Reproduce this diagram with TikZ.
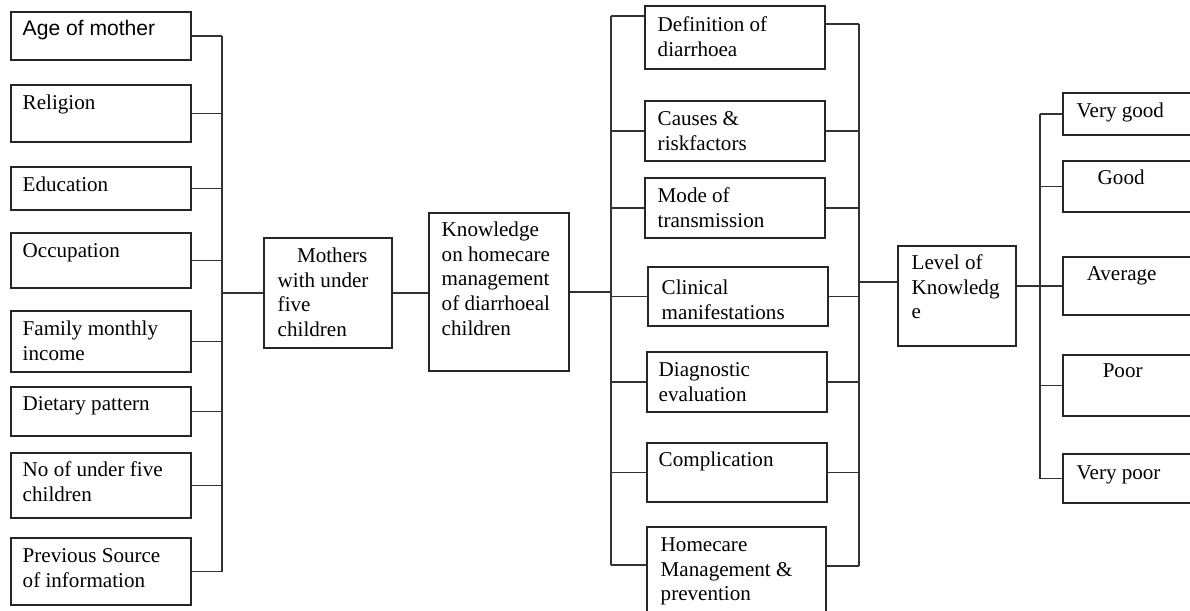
\documentclass[tikz,border=0pt]{standalone}
\usepackage{fontspec}
\setmainfont{Liberation Serif}
\setsansfont{Liberation Sans}

\tikzset{
  box/.style={draw=black!85, line width=0.7pt, inner sep=0pt},
  txt/.style={anchor=north west, inner sep=0pt, align=left, font=\fontsize{12}{14}\selectfont},
  link/.style={draw=black!80, line width=0.7pt}
}
% box: name, x1, y1, x2, y2, text inset, baseline drop, text
\newcommand{\blk}[8]{%
  \node[box, minimum width={(#4-#2)*0.02cm}, minimum height={(#5-#3)*0.02cm}]
    (#1) at ({(#2+#4)/2},{(#3+#5)/2}) {};
  \node[txt] (#1t) at ([shift={(#6,{#7-17.3})}]#1.north west) {\strut #8};}

\begin{document}
\begin{tikzpicture}[x=0.02cm, y=-0.02cm]
        \useasboundingbox (0,0) rectangle (1190,611);
        \clip (0,0) rectangle (1190,611);

        % background data of the mothers
        \blk{age}{11}{12}{191}{60}{12}{24}{\sffamily Age of mother}
        \blk{rel}{11}{85}{191}{142}{12}{25}{Religion}
        \blk{edu}{11}{167}{191}{210}{12}{25}{Education}
        \blk{occ}{11}{233}{191}{288}{12}{25}{Occupation}
        \blk{fam}{11}{311}{191}{372}{12}{25}{Family monthly\\income}
        \blk{diet}{11}{387}{191}{436}{12}{24}{Dietary pattern}
        \blk{num}{11}{453}{191}{518}{12}{24}{No of under five\\children}
        \blk{prev}{11}{538}{191}{605}{12}{25}{Previous Source\\of information}
        \coordinate (busL) at (222,0);

        \blk{mothers}{264}{238}{392}{348}{14}{25}{\hspace*{11pt}Mothers\\with under\\five\\children}
        \blk{know}{429}{213}{569}{371}{13}{24}{Knowledge\\on homecare\\management\\of diarrhoeal\\children}

        % areas of knowledge
        \coordinate (busM) at (611,0);
        \coordinate (busR) at (859,0);
        \blk{def}{645}{6}{825}{69}{13}{26}{Definition of\\diarrhoea}
        \blk{cause}{645}{101}{825}{161}{13}{25}{Causes \&\\riskfactors}
        \blk{mode}{645}{178}{825}{238}{13}{25}{Mode of\\transmission}
        \blk{clin}{648}{267}{828}{326}{14}{28}{Clinical\\manifestations}
        \blk{diag}{647}{352}{827}{412}{12}{25}{Diagnostic\\evaluation}
        \blk{comp}{647}{443}{827}{502}{12}{24}{Complication}
        \blk{home}{647}{527}{826}{615}{14}{25}{Homecare\\Management \&\\prevention}

        % level of knowledge
        \blk{level}{898}{246}{1016}{346}{14}{24}{Level of\\Knowledg\\e}
        \coordinate (busRR) at (1040,0);
        \blk{vg}{1063}{93}{1200}{135}{14}{25}{Very good}
        \blk{good}{1063}{161}{1200}{212}{35}{24}{Good}
        \blk{avg}{1063}{257}{1200}{315}{24}{24}{Average}
        \blk{poor}{1063}{355}{1200}{416}{40}{23}{Poor}
        \blk{vp}{1063}{454}{1200}{503}{14}{26}{Very poor}

        \draw[link] (age.east) -- (age.east -| busL);
        \draw[link] (rel.east) -- (rel.east -| busL);
        \draw[link] (edu.east) -- (edu.east -| busL);
        \draw[link] (occ.east) -- (occ.east -| busL);
        \draw[link] (fam.east) -- (fam.east -| busL);
        \draw[link] (diet.east) -- (diet.east -| busL);
        \draw[link] (num.east) -- (num.east -| busL);
        \draw[link] (prev.east) -- (prev.east -| busL);
        \draw[link] (age.east -| busL) -- (prev.east -| busL);
        \draw[link] (mothers.west -| busL) -- (mothers.west);
        \draw[link] (mothers.east) -- (mothers.east -| know.west);
        \draw[link] (know.east) -- (know.east -| busM);

        \coordinate (defl) at ([yshift=0.43cm]def.west);
        \coordinate (defr) at ([yshift=0.27cm]def.east);
        \coordinate (homel) at ([yshift=0.12cm]home.west);
        \coordinate (homer) at ([yshift=0.10cm]home.east);
        \draw[link] (defl -| busM) -- (homel -| busM);
        \draw[link] (defr -| busR) -- (homer -| busR);
        \draw[link] (defl -| busM) -- (defl);
        \draw[link] (defr) -- (defr -| busR);
        \draw[link] (cause.west -| busM) -- (cause.west);
        \draw[link] (cause.east) -- (cause.east -| busR);
        \draw[link] (mode.west -| busM) -- (mode.west);
        \draw[link] (mode.east) -- (mode.east -| busR);
        \draw[link] (clin.west -| busM) -- (clin.west);
        \draw[link] (clin.east) -- (clin.east -| busR);
        \draw[link] (diag.west -| busM) -- (diag.west);
        \draw[link] (diag.east) -- (diag.east -| busR);
        \draw[link] (comp.west -| busM) -- (comp.west);
        \draw[link] (comp.east) -- (comp.east -| busR);
        \draw[link] (homel -| busM) -- (homel);
        \draw[link] (homer) -- (homer -| busR);

        \coordinate (lvll) at ([yshift=0.28cm]level.west);
        \draw[link] (lvll -| busR) -- (lvll);
        \draw[link] (level.east |- avg.west) -- (avg.west);
        \draw[link] (vg.west -| busRR) -- (vp.west -| busRR);
        \draw[link] (vg.west -| busRR) -- (vg.west);
        \draw[link] (good.west -| busRR) -- (good.west);
        \draw[link] (poor.west -| busRR) -- (poor.west);
        \draw[link] (vp.west -| busRR) -- (vp.west);
\end{tikzpicture}
\end{document}
